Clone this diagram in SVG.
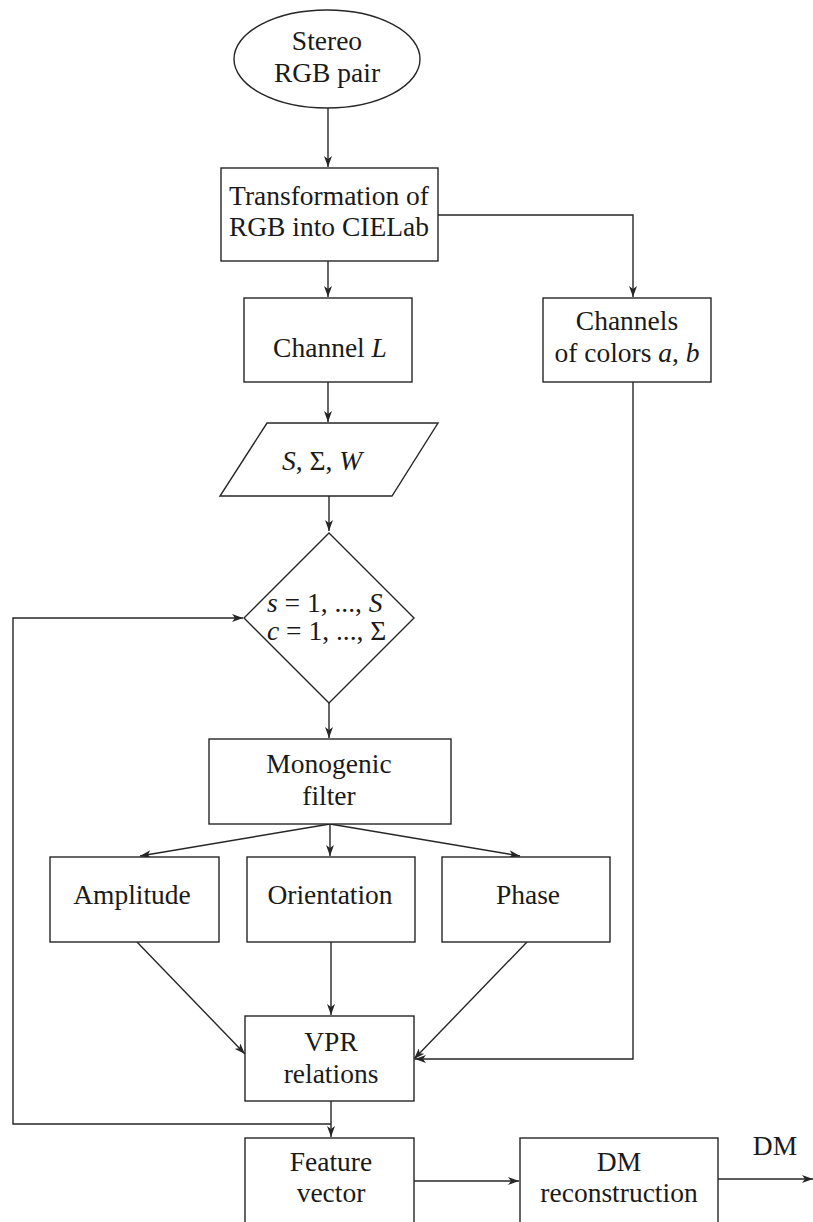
<svg xmlns="http://www.w3.org/2000/svg" width="813" height="1222" viewBox="0 0 813 1222">
<style>
.n{fill:#fff;stroke:#262626;stroke-width:1.4}
.c{fill:none;stroke:#262626;stroke-width:1.4}
text{font-family:"Liberation Serif","DejaVu Serif",serif;font-size:27.5px;fill:#1a1a1a;text-anchor:middle}
.i{font-style:italic}
</style>
<defs>
<marker id="a" markerWidth="12" markerHeight="8" refX="11" refY="4" orient="auto" markerUnits="userSpaceOnUse">
<path d="M0,0 L11,4 L0,8 L3,4 z" fill="#262626"/>
</marker>
</defs>
<g id="connectors">
<path class="c" d="M328,108 V167" marker-end="url(#a)"/>
<path class="c" d="M328,261 V297" marker-end="url(#a)"/>
<path class="c" d="M438,215 H633 V297" marker-end="url(#a)"/>
<path class="c" d="M328,382 V422" marker-end="url(#a)"/>
<path class="c" d="M329,496 V531" marker-end="url(#a)"/>
<path class="c" d="M329,703 V738" marker-end="url(#a)"/>
<path class="c" d="M330,824 L140,856" marker-end="url(#a)"/>
<path class="c" d="M330,824 V856" marker-end="url(#a)"/>
<path class="c" d="M330,824 L520,856" marker-end="url(#a)"/>
<path class="c" d="M137,942 L245,1054" marker-end="url(#a)"/>
<path class="c" d="M331,942 V1015" marker-end="url(#a)"/>
<path class="c" d="M527,942 L414,1059" marker-end="url(#a)"/>
<path class="c" d="M633,382 V1059 H415" marker-end="url(#a)"/>
<path class="c" d="M331,1101 V1137" marker-end="url(#a)"/>
<path class="c" d="M331,1124 H13 V618 H243" marker-end="url(#a)"/>
<path class="c" d="M414,1181 H519" marker-end="url(#a)"/>
<path class="c" d="M718,1179 H813" marker-end="url(#a)"/>
</g>
<g font-family="Liberation Serif, DejaVu Serif, serif">
<g id="start">
<ellipse class="n" cx="327" cy="59" rx="93" ry="49"/>
<text x="327" y="50">Stereo</text>
<text x="327" y="82">RGB pair</text>
</g>
<g id="transform">
<rect class="n" x="221" y="168" width="217" height="93"/>
<text x="329" y="205">Transformation of</text>
<text x="329" y="236">RGB into CIELab</text>
</g>
<g id="channelL">
<rect class="n" x="244" y="298" width="168" height="84"/>
<text x="330" y="357">Channel <tspan class="i">L</tspan></text>
</g>
<g id="channelsAB">
<rect class="n" x="543" y="298" width="168" height="84"/>
<text x="627" y="330">Channels</text>
<text x="627" y="362">of colors <tspan class="i">a</tspan>, <tspan class="i">b</tspan></text>
</g>
<g id="params">
<polygon class="n" points="267,423 438,423 392,496 220,496"/>
<text x="322" y="470"><tspan class="i">S</tspan>, Σ, <tspan class="i">W</tspan></text>
</g>
<g id="loop">
<polygon class="n" points="329,533 414,618 329,703 244,618"/>
<text x="267" y="612" style="text-anchor:start"><tspan class="i">s</tspan> = 1, ..., <tspan class="i">S</tspan></text>
<text x="267" y="640" style="text-anchor:start"><tspan class="i">c</tspan> = 1, ..., Σ</text>
</g>
<g id="monogenic">
<rect class="n" x="209" y="739" width="242" height="85"/>
<text x="329" y="773">Monogenic</text>
<text x="329" y="805">filter</text>
</g>
<g id="amplitude">
<rect class="n" x="50" y="857" width="169" height="85"/>
<text x="132" y="904">Amplitude</text>
</g>
<g id="orientation">
<rect class="n" x="247" y="857" width="168" height="85"/>
<text x="330" y="904">Orientation</text>
</g>
<g id="phase">
<rect class="n" x="442" y="857" width="168" height="85"/>
<text x="528" y="904">Phase</text>
</g>
<g id="vpr">
<rect class="n" x="245" y="1016" width="169" height="85"/>
<text x="331" y="1051">VPR</text>
<text x="331" y="1083">relations</text>
</g>
<g id="feature">
<rect class="n" x="245" y="1138" width="169" height="100"/>
<text x="331" y="1171">Feature</text>
<text x="331" y="1202">vector</text>
</g>
<g id="dmrec">
<rect class="n" x="520" y="1138" width="198" height="100"/>
<text x="619" y="1171">DM</text>
<text x="619" y="1202">reconstruction</text>
</g>
<g id="output">
<text x="775" y="1155">DM</text>
</g>
</g>
</svg>
